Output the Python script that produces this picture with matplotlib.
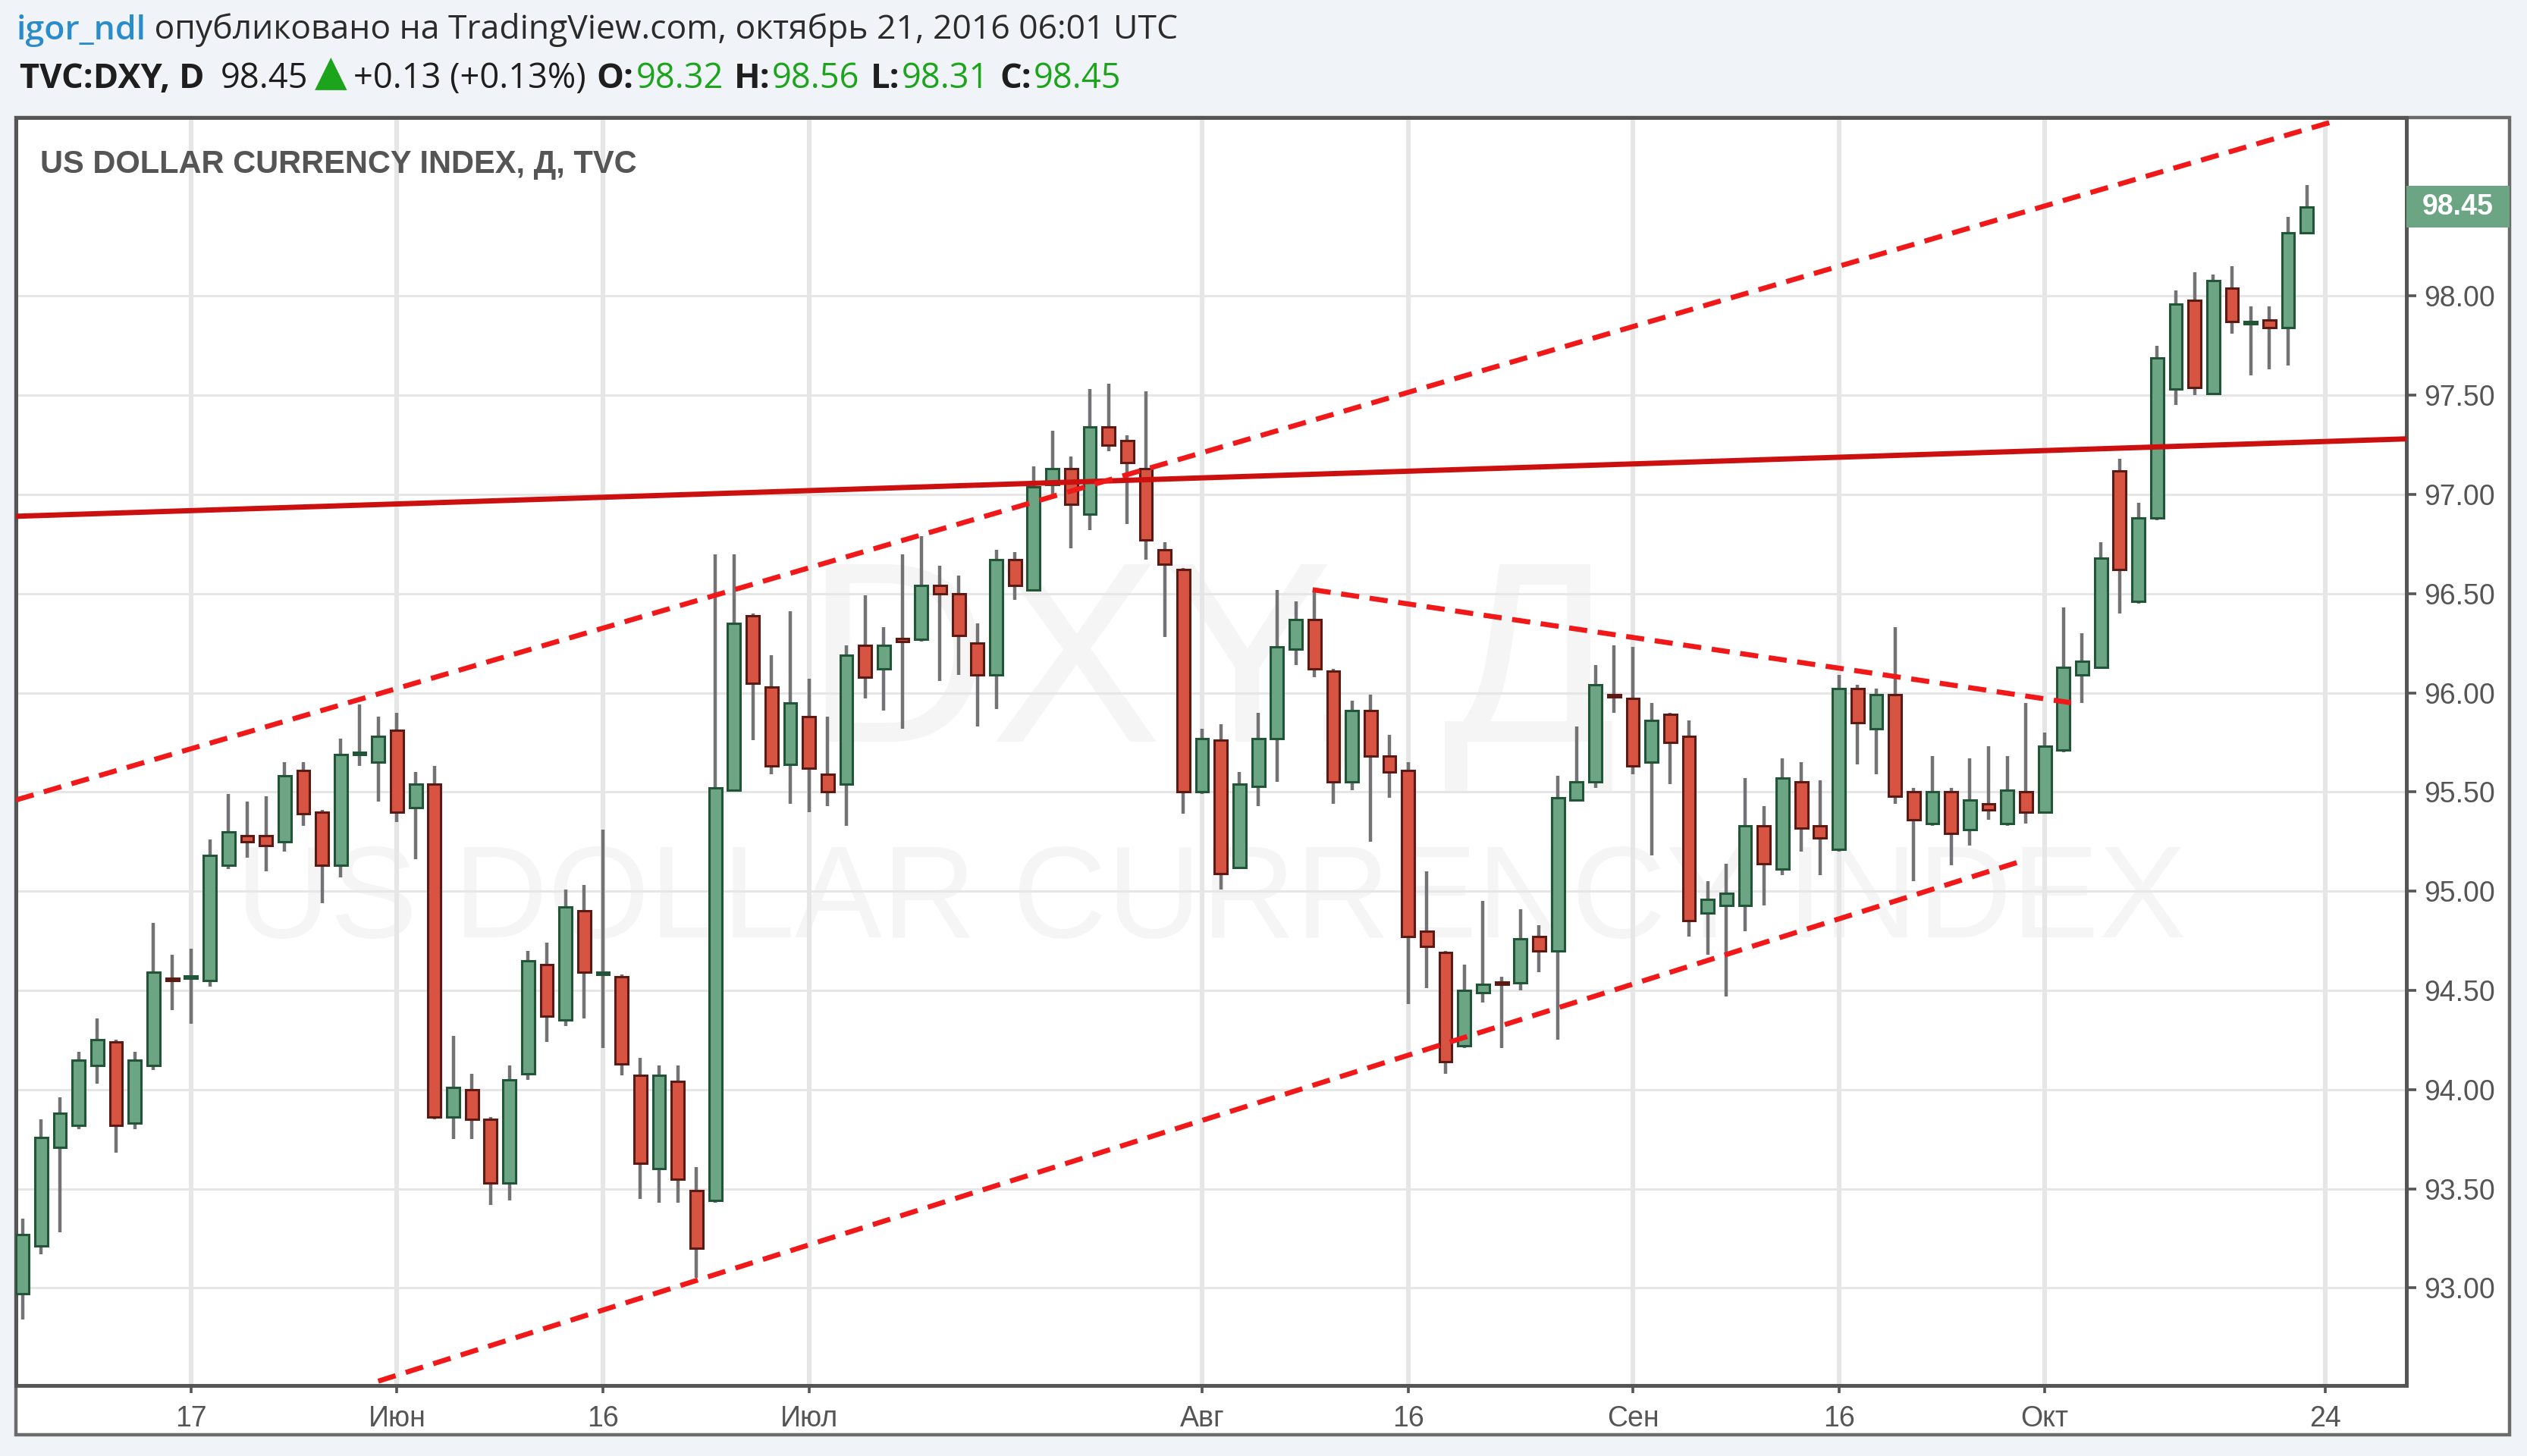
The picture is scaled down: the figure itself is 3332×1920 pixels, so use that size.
import matplotlib
matplotlib.use('Agg')
import matplotlib.pyplot as plt
import matplotlib.transforms as mtransforms
from matplotlib.patches import Rectangle
import numpy as np
import pandas as pd

plt.rcParams['font.family'] = ['Liberation Sans', 'DejaVu Sans']

# TVC:DXY daily candles, 4 May 2016 - 21 Oct 2016
opens = [92.97, 93.21, 93.71, 93.82, 94.12, 94.24, 93.83, 94.12, 94.56, 94.56,
         94.55, 95.13, 95.28, 95.28, 95.25, 95.61, 95.40, 95.13, 95.69, 95.65,
         95.81, 95.42, 95.54, 93.86, 94.00, 93.85, 93.53, 94.08, 94.63, 94.35,
         94.90, 94.58, 94.57, 94.07, 93.60, 94.04, 93.49, 93.44, 95.51, 96.39,
         96.03, 95.64, 95.88, 95.59, 95.54, 96.24, 96.12, 96.27, 96.27, 96.54,
         96.50, 96.25, 96.09, 96.67, 96.52, 97.05, 97.13, 96.90, 97.34, 97.27,
         97.13, 96.72, 96.62, 95.50, 95.76, 95.12, 95.53, 95.77, 96.22, 96.37,
         96.11, 95.55, 95.91, 95.68, 95.61, 94.80, 94.69, 94.22, 94.49, 94.54,
         94.54, 94.77, 94.70, 95.46, 95.55, 95.99, 95.97, 95.65, 95.89, 95.78,
         94.89, 94.93, 94.93, 95.33, 95.11, 95.55, 95.33, 95.21, 96.02, 95.82,
         95.99, 95.50, 95.34, 95.50, 95.31, 95.44, 95.34, 95.50, 95.40, 95.71,
         96.09, 96.13, 97.12, 96.46, 96.88, 97.53, 97.98, 97.51, 98.04, 97.86,
         97.88, 97.84, 98.32]
highs = [93.35, 93.85, 93.96, 94.19, 94.36, 94.25, 94.19, 94.84, 94.68, 94.71,
         95.26, 95.49, 95.45, 95.48, 95.65, 95.65, 95.41, 95.77, 95.94, 95.88,
         95.90, 95.60, 95.63, 94.27, 94.08, 93.86, 94.12, 94.70, 94.74, 95.01,
         95.03, 95.31, 94.58, 94.16, 94.12, 94.12, 93.61, 96.70, 96.70, 96.40,
         96.19, 96.41, 96.07, 95.88, 96.24, 96.49, 96.33, 96.70, 96.79, 96.64,
         96.59, 96.35, 96.72, 96.71, 97.14, 97.32, 97.19, 97.53, 97.56, 97.30,
         97.52, 96.76, 96.63, 95.82, 95.84, 95.60, 95.90, 96.52, 96.46, 96.51,
         96.12, 95.96, 95.99, 95.79, 95.65, 95.10, 94.70, 94.63, 94.95, 94.57,
         94.91, 94.83, 95.58, 95.83, 96.14, 96.24, 96.23, 95.95, 95.90, 95.86,
         95.05, 95.14, 95.57, 95.43, 95.67, 95.65, 95.56, 96.09, 96.04, 96.02,
         96.33, 95.52, 95.68, 95.52, 95.67, 95.73, 95.68, 95.95, 95.80, 96.43,
         96.30, 96.76, 97.18, 96.96, 97.75, 98.03, 98.12, 98.11, 98.15, 97.95,
         97.95, 98.40, 98.56]
lows = [92.84, 93.17, 93.28, 93.80, 94.03, 93.68, 93.80, 94.10, 94.40, 94.33,
        94.52, 95.11, 95.17, 95.10, 95.20, 95.33, 94.94, 95.07, 95.63, 95.45,
        95.35, 95.16, 93.85, 93.75, 93.75, 93.42, 93.44, 94.05, 94.24, 94.32,
        94.36, 94.21, 94.07, 93.45, 93.43, 93.43, 93.05, 93.43, 95.50, 95.76,
        95.59, 95.44, 95.40, 95.43, 95.33, 95.97, 95.91, 95.82, 96.26, 96.06,
        96.09, 95.83, 95.92, 96.47, 96.51, 96.98, 96.73, 96.82, 97.22, 96.85,
        96.67, 96.28, 95.39, 95.49, 95.01, 95.11, 95.43, 95.55, 96.14, 96.08,
        95.44, 95.51, 95.25, 95.47, 94.43, 94.51, 94.08, 94.21, 94.44, 94.21,
        94.50, 94.59, 94.25, 95.45, 95.52, 95.90, 95.59, 95.18, 95.54, 94.77,
        94.68, 94.47, 94.80, 94.93, 95.08, 95.20, 95.08, 95.20, 95.64, 95.59,
        95.44, 95.05, 95.33, 95.13, 95.23, 95.36, 95.33, 95.34, 95.39, 95.70,
        95.95, 96.12, 96.40, 96.45, 96.87, 97.45, 97.50, 97.50, 97.81, 97.60,
        97.63, 97.65, 98.31]
closes = [93.27, 93.76, 93.88, 94.15, 94.25, 93.82, 94.15, 94.59, 94.55, 94.57,
          95.18, 95.30, 95.25, 95.23, 95.58, 95.39, 95.13, 95.69, 95.70, 95.78,
          95.40, 95.54, 93.86, 94.01, 93.85, 93.53, 94.05, 94.65, 94.37, 94.92,
          94.59, 94.59, 94.13, 93.63, 94.07, 93.55, 93.20, 95.52, 96.35, 96.05,
          95.63, 95.95, 95.62, 95.50, 96.19, 96.08, 96.24, 96.26, 96.54, 96.50,
          96.29, 96.09, 96.67, 96.54, 97.04, 97.13, 96.95, 97.34, 97.25, 97.16,
          96.77, 96.65, 95.50, 95.77, 95.09, 95.54, 95.77, 96.23, 96.37, 96.12,
          95.55, 95.91, 95.68, 95.60, 94.77, 94.72, 94.14, 94.50, 94.53, 94.53,
          94.76, 94.70, 95.47, 95.55, 96.04, 95.98, 95.63, 95.86, 95.75, 94.85,
          94.96, 94.99, 95.33, 95.14, 95.57, 95.32, 95.27, 96.02, 95.85, 95.99,
          95.48, 95.36, 95.50, 95.29, 95.46, 95.41, 95.51, 95.40, 95.73, 96.13,
          96.16, 96.68, 96.62, 96.88, 97.69, 97.96, 97.54, 98.08, 97.87, 97.87,
          97.84, 98.32, 98.45]

start_date = '2016-05-04'
tick_dates = ['2016-05-17', '2016-06-01', '2016-06-16', '2016-07-01', '2016-08-01',
              '2016-08-16', '2016-09-01', '2016-09-16', '2016-10-03', '2016-10-24']
tick_labels = ['17', 'Июн', '16', 'Июл', 'Авг', '16', 'Сен', '16', 'Окт', '24']
price_ticks = [93.0, 93.5, 94.0, 94.5, 95.0, 95.5, 96.0, 96.5, 97.0, 97.5, 98.0]

# drawn trendlines: (bar number, price) pairs
resist_x, resist_y = [-0.34, 127.2], [96.89, 97.28]
chan_top_x, chan_top_y = [-0.34, 123.4], [95.46, 98.88]
chan_bot_x, chan_bot_y = [19.0, 106.7], [92.53, 95.15]
wedge_x, wedge_y = [68.9, 109.4], [96.52, 95.95]

o = np.array(opens); h = np.array(highs); l = np.array(lows); c = np.array(closes)
x = np.arange(len(o))
cal = pd.bdate_range(start_date, '2016-10-31')
tick_pos = [cal.get_loc(pd.Timestamp(d)) for d in tick_dates]

up = c >= o
body_fill = np.where(up, '#6ba583', '#d75442')
body_edge = np.where(up, '#225437', '#5b1a13')

W, H = 1568, 904  # layout worked out on the small preview
fig = plt.figure(figsize=(16.66, 9.6), dpi=200, facecolor='#f0f3f7')
fig.patches.append(Rectangle((10 / W, 1 - 891 / H), 1547 / W, 818 / H, transform=fig.transFigure,
                             facecolor='white', edgecolor='#6b6b6b', lw=1.6, zorder=-1))
ax = fig.add_axes([10 / W, 1 - 860 / H, 1483 / W, 787 / H])
ax.set_facecolor('white')

# watermark
ax.text(0.5, 0.56, 'DXY, Д', transform=ax.transAxes, ha='center', va='center',
        fontsize=122, color='#f5f5f5', zorder=0.1)
ax.text(0.5, 0.38, 'US DOLLAR CURRENCY INDEX', transform=ax.transAxes, ha='center', va='center',
        fontsize=62, color='#f5f5f5', zorder=0.1)

for p in price_ticks:
    ax.axhline(p, color='#e6e6e6', lw=1.1, zorder=0.5)
for p in tick_pos:
    ax.axvline(p, color='#e6e6e6', lw=2.2, zorder=0.5)

ax.vlines(x, l, h, color='#737375', lw=1.6, zorder=2)
ax.bar(x, np.maximum(np.abs(c - o), 0.012), bottom=np.minimum(o, c), width=0.68,
       color=body_fill, edgecolor=body_edge, lw=1.1, zorder=3)

ax.axline((resist_x[0], resist_y[0]), (resist_x[1], resist_y[1]), color='#cc1010', lw=2.5, zorder=4)
for xs, ys in [(chan_top_x, chan_top_y), (chan_bot_x, chan_bot_y), (wedge_x, wedge_y)]:
    ax.plot(xs, ys, color='#f01818', lw=2.4, dashes=(3.6, 2.1), zorder=4)

ax.set_xlim(-0.34, 127.3)
ax.set_ylim(92.51, 98.90)

for s in ax.spines.values():
    s.set_color('#555555')
    s.set_linewidth(1.8)

ax.yaxis.tick_right()
ax.set_yticks(price_ticks)
ax.set_yticklabels(['%.2f' % p for p in price_ticks])
ax.tick_params(axis='y', length=4.5, width=1.3, color='#555555', pad=4,
               labelsize=13.5, labelcolor='#555555')
ax.set_xticks(tick_pos)
ax.set_xticklabels(tick_labels)
ax.tick_params(axis='x', length=3.5, width=1.3, color='#555555', pad=6,
               labelsize=13.5, labelcolor='#555555')

# last price marker
last_tr = mtransforms.blended_transform_factory(ax.transAxes, ax.transData)
ax.add_patch(Rectangle((1.0, c[-1] - 0.105), 64 / 1483, 0.21, transform=last_tr,
                       facecolor='#6ba583', edgecolor='none', clip_on=False, zorder=5))
ax.text(1.0 + 32 / 1483, c[-1], '%.2f' % c[-1], transform=last_tr, ha='center', va='center',
        color='white', fontsize=13.5, fontweight='bold', clip_on=False, zorder=6)

ax.text(15 / 1483, 1 - 29 / 787, 'US DOLLAR CURRENCY INDEX, Д, TVC', transform=ax.transAxes,
        ha='left', va='center', fontsize=15, fontweight='bold', color='#555555', zorder=6)

# header lines
hdr = ['Open Sans', 'DejaVu Sans']
t = fig.text(10 / W, 1 - 19 / H, 'igor_ndl', color='#2a8dca', fontsize=16, family=hdr,
             fontweight='semibold', va='center')
ax.annotate(' опубликовано на TradingView.com, октябрь 21, 2016 06:01 UTC', xy=(1, 0),
            xycoords=t, va='bottom', ha='left', fontsize=16, family=hdr, color='#2b2b2b',
            annotation_clip=False)

parts = [('TVC:DXY, D', 'bold', '#1e1e1e', 0, 16.3), ('98.45', 'normal', '#1e1e1e', 8, 16.3),
         ('▲', 'normal', '#1da41d', 3, 20), ('+0.13 (+0.13%)', 'normal', '#1e1e1e', 3, 16.3),
         ('O:', 'bold', '#1e1e1e', 5, 16.3), ('98.32', 'normal', '#1da41d', 1, 16.3),
         ('H:', 'bold', '#1e1e1e', 5, 16.3), ('98.56', 'normal', '#1da41d', 1, 16.3),
         ('L:', 'bold', '#1e1e1e', 5, 16.3), ('98.31', 'normal', '#1da41d', 1, 16.3),
         ('C:', 'bold', '#1e1e1e', 5, 16.3), ('98.45', 'normal', '#1da41d', 1, 16.3)]
prev = None
for s, wt, col, gap, fs in parts:
    if prev is None:
        prev = fig.text(12 / W, 1 - 49 / H, s, fontweight=wt, color=col, fontsize=fs,
                        family=hdr, va='center')
    else:
        prev = ax.annotate(s, xy=(1, 0), xycoords=prev, xytext=(gap, 0), textcoords='offset points',
                           va='bottom', ha='left', fontweight=wt, color=col, fontsize=fs,
                           family=hdr, annotation_clip=False)

fig.savefig('out.png', dpi=200, facecolor=fig.get_facecolor())
